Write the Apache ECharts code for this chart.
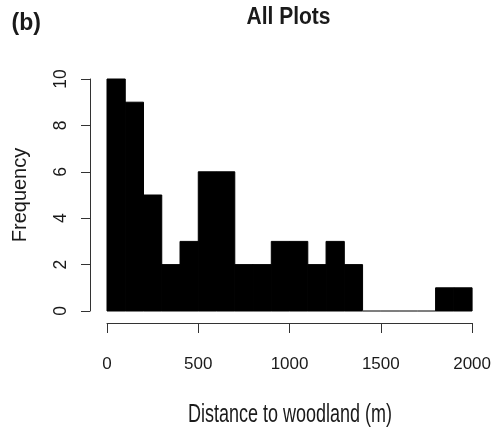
<!DOCTYPE html>
<html><head><meta charset="utf-8">
<script src="https://cdn.jsdelivr.net/npm/echarts@6/dist/echarts.min.js"></script>
<style>html,body{margin:0;padding:0;background:#fff}#c{width:494px;height:430px}</style>
</head><body><div id="c"></div>
<script>
// Histogram bins (m) and counts
const binStarts = [0,100,200,300,400,500,600,700,800,900,1000,1100,1200,1300,1400,1500,1600,1700,1800,1900];
const binWidth = 100;
const counts = [10,9,5,2,3,6,6,2,2,3,3,2,3,2,0,0,0,0,1,1];
const xTicks = [0,500,1000,1500,2000];
const yTicks = [0,2,4,6,8,10];
const panelLabel = '(b)';
const titleText = 'All Plots';
const xTitle = 'Distance to woodland (m)';
const yTitle = 'Frequency';

const data = binStarts.map((s,i)=>[s, s+binWidth, counts[i]]);
const font = 'Liberation Sans, Arial, sans-serif';
const txt = '#1a1a1a';
const chart = echarts.init(document.getElementById('c'));
chart.setOption({
  animation:false,
  backgroundColor:'#fff',
  graphic:[
    {type:'text', x:288.5, y:17, scaleY:1.15,
     style:{text:titleText, x:0, y:0, align:'center', verticalAlign:'middle',
            font:'bold 21px '+font, fill:txt}},
    {type:'text', x:11.5, y:24,
     style:{text:panelLabel, x:0, y:0, align:'left', verticalAlign:'middle',
            font:'bold 23px '+font, fill:txt}},
    {type:'text', x:290, y:415, scaleY:1.42,
     style:{text:xTitle, x:0, y:0, align:'center', verticalAlign:'middle',
            font:'18px '+font, fill:txt}}
  ],
  grid:{left:107, right:21, top:79, bottom:119},
  xAxis:{type:'value', min:xTicks[0], max:xTicks[xTicks.length-1], interval:500, offset:12,
    axisLine:{show:true, onZero:false, lineStyle:{color:'#333', width:1}},
    axisTick:{show:true, length:10, lineStyle:{color:'#333'}},
    axisLabel:{margin:33, fontFamily:font, fontSize:17, color:txt, formatter:v=>String(v)},
    splitLine:{show:false}},
  yAxis:{type:'value', min:yTicks[0], max:yTicks[yTicks.length-1], interval:2, offset:17,
    name:yTitle, nameLocation:'middle', nameGap:60,
    nameTextStyle:{fontFamily:font, fontSize:20, color:txt},
    axisLine:{show:true, onZero:false, lineStyle:{color:'#333', width:1}},
    axisTick:{show:true, length:9, lineStyle:{color:'#333'}},
    axisLabel:{margin:20, rotate:90, fontFamily:font, fontSize:17.5, color:txt, formatter:v=>String(v)},
    splitLine:{show:false}},
  series:[{
    type:'custom',
    data:data,
    encode:{x:[0,1], y:2},
    renderItem:function(params, api){
      const c = api.value(2);
      const p0 = api.coord([api.value(0), 0]);
      const p1 = api.coord([api.value(1), c]);
      return {type:'rect',
        shape:{x:p0[0], y:p1[1], width:p1[0]-p0[0], height:p0[1]-p1[1]},
        style:{fill:'#000', stroke: c > 0 ? '#000' : '#555', lineWidth:1}};
    }
  }]
});
</script></body></html>
